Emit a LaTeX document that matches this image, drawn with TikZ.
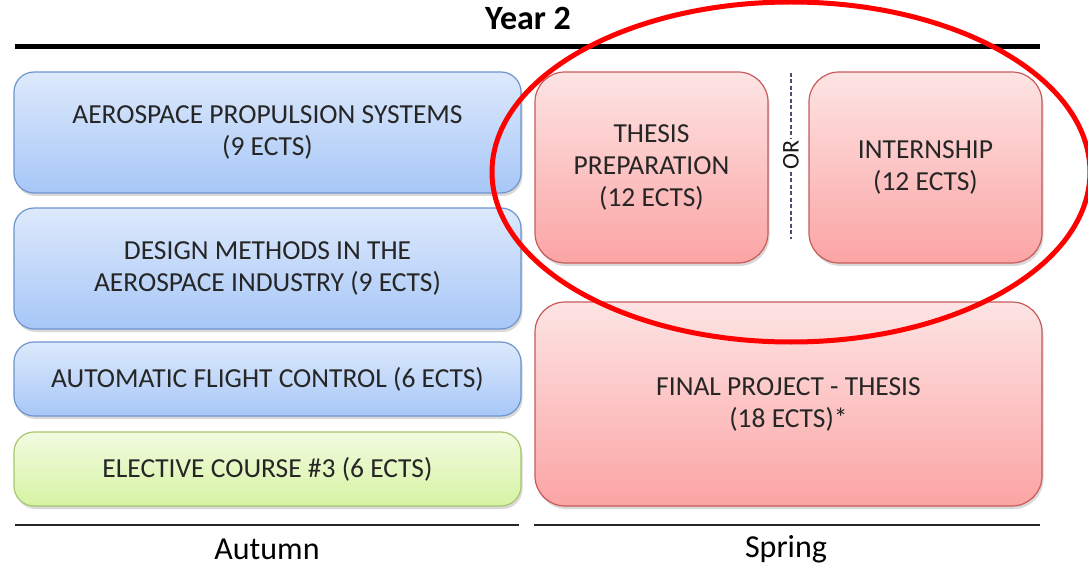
\documentclass[tikz,border=0pt]{standalone}
\usepackage{fontspec}
\setmainfont{Carlito}
\usetikzlibrary{shadows}
\definecolor{bluetop}{HTML}{DDE9FC}
\definecolor{bluebot}{HTML}{A7C7F7}
\definecolor{blueline}{HTML}{6E94CE}
\definecolor{greentop}{HTML}{F2FBE0}
\definecolor{greenbot}{HTML}{D6F3A3}
\definecolor{greenline}{HTML}{A8C66D}
\definecolor{redtop}{HTML}{FDE4E4}
\definecolor{redbot}{HTML}{FCA4A4}
\definecolor{redline}{HTML}{C85A5A}

\begin{document}
\begin{tikzpicture}[x=1pt,y=-1pt,
    course/.style={draw,rounded corners=20pt,line width=1.2pt,align=center,text=black!85,
      font=\fontsize{27.5}{32}\selectfont,
      drop shadow={shadow xshift=1.5pt,shadow yshift=-3pt,opacity=0.3}},
    autumn/.style={course,minimum width=507pt,draw=blueline,top color=bluetop,bottom color=bluebot},
    elective/.style={autumn,draw=greenline,top color=greentop,bottom color=greenbot},
    spring/.style={course,rounded corners=30pt,draw=redline,top color=redtop,bottom color=redbot},
    term/.style={font=\fontsize{32}{36}\selectfont}]
  \useasboundingbox (0,0) rectangle (1088,567);

  \node[font=\fontsize{34}{38}\selectfont\bfseries] (year) at (528,18) {Year 2};
  \coordinate (yl) at (15,47);
  \coordinate (yr) at (1040,47);
  \draw[line width=5pt] (yl) -- (yr);

  \node[autumn,minimum height=121pt] (aps) at (267.5,132.5) {AEROSPACE PROPULSION SYSTEMS\\(9 ECTS)};
  \node[autumn,minimum height=121pt] (dm) at (267.5,268.5) {DESIGN METHODS IN THE\\AEROSPACE INDUSTRY (9 ECTS)};
  \node[autumn,minimum height=74pt] (afc) at (267.5,379) {AUTOMATIC FLIGHT CONTROL (6 ECTS)};
  \node[elective,minimum height=74pt] (ec) at (267.5,469) {ELECTIVE COURSE \#3 (6 ECTS)};

  \node[spring,minimum width=233pt,minimum height=191pt] (tp) at (651.5,167.5) {THESIS\\PREPARATION\\(12 ECTS)};
  \node[spring,minimum width=233pt,minimum height=191pt] (int) at (925.5,167.5) {INTERNSHIP\\(12 ECTS)};
  \node[spring,minimum width=507pt,minimum height=204pt] (fp) at (788.5,404) {FINAL PROJECT - THESIS\\(18 ECTS)*};

  \node[rotate=90,font=\fontsize{24}{28}\selectfont,text=black!90,inner sep=2pt] (or) at (791,155) {OR};
  \coordinate (ortop) at (791,73);
  \coordinate (orbot) at (791,239);
  \draw[dash pattern=on 4pt off 2.5pt,line width=2pt,draw=blue!30!black!70] (ortop) -- (or.east) (or.west) -- (orbot);

  \coordinate (al) at (15,525);
  \coordinate (ar) at (519,525);
  \coordinate (sl) at (534,525);
  \coordinate (sr) at (1040,525);
  \draw[line width=1.6pt,black!85] (al) -- (ar) (sl) -- (sr);
  \node[term] (aut) at (267,549) {Autumn};
  \node[term] (spr) at (786,549) {Spring};

  \draw[red,line width=5pt] (791,172) ellipse (299pt and 170pt);
\end{tikzpicture}
\end{document}
